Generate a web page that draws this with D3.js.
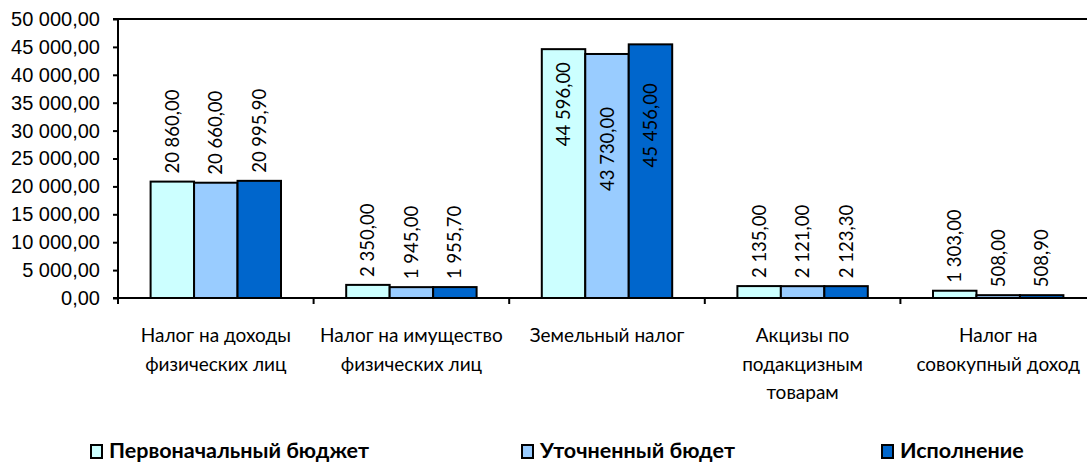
<!DOCTYPE html>
<html>
<head>
<meta charset="utf-8">
<script src="https://cdn.jsdelivr.net/npm/d3@7"></script>
<style>
  body { margin: 0; background: #fff; }
  svg { display: block; font-family: Lato, "Open Sans", sans-serif; }
</style>
</head>
<body>
<div id="chart"></div>
<script>
// chart data
var categories = ["Налог на доходы\nфизических лиц", "Налог на имущество\nфизических лиц",
    "Земельный налог", "Акцизы по\nподакцизным\nтоварам", "Налог на\nсовокупный доход"];
var seriesNames = ["Первоначальный бюджет", "Уточненный бюдет", "Исполнение"];
var initial = [20860, 2350, 44596, 2135, 1303];
var revised = [20660, 1945, 43730, 2121, 508];
var actual = [20995.9, 1955.7, 45456, 2123.3, 508.9];
var yTicks = [0, 5000, 10000, 15000, 20000, 25000, 30000, 35000, 40000, 45000, 50000];

var colors = ["#CCFFFF", "#99CCFF", "#0066CC"];
// labels that do not fit above the plot are drawn inside the bar
var insideShift = [13, 53, 39];

var width = 1087, height = 463;
var margin = { top: 19, left: 118, bottom: 165 };
var plotRight = 1096;
var y0 = height - margin.bottom;

var values = [initial, revised, actual];

var x = d3.scaleBand()
    .domain(categories)
    .range([margin.left, plotRight]);

var xs = d3.scaleBand()
    .domain(d3.range(seriesNames.length))
    .range([0, x.bandwidth()])
    .paddingOuter(0.75);

var y = d3.scaleLinear()
    .domain([0, 50000])
    .range([y0, margin.top]);

var ru = d3.formatLocale({ decimal: ",", thousands: " ", grouping: [3], currency: ["", ""] });
var fmt = ru.format(",.2f");

var svg = d3.select("#chart").append("svg")
    .attr("width", width)
    .attr("height", height);

// bars
var groups = svg.selectAll(".cat")
    .data(categories)
    .enter().append("g")
    .attr("class", "cat")
    .attr("transform", function(d) { return "translate(" + x(d) + ",0)"; });

groups.selectAll("rect")
    .data(function(d, i) {
        return values.map(function(s, j) { return { s: j, v: s[i] }; });
    })
    .enter().append("rect")
    .attr("x", function(d) { return xs(d.s); })
    .attr("y", function(d) { return y(d.v); })
    .attr("width", xs.bandwidth())
    .attr("height", function(d) { return y0 - y(d.v); })
    .attr("fill", function(d) { return colors[d.s]; })
    .attr("stroke", "#000")
    .attr("stroke-width", 2);

// data labels
groups.selectAll("text.lbl")
    .data(function(d, i) {
        return values.map(function(s, j) { return { s: j, v: s[i] }; });
    })
    .enter().append("text")
    .attr("class", "lbl")
    .attr("transform", function(d) {
        var inside = d.v > 40000;
        var ty = inside ? y(d.v) + insideShift[d.s] : y(d.v) - 8;
        return "translate(" + (xs(d.s) + xs.bandwidth() / 2 + 6.5) + "," + ty + ") rotate(-90)";
    })
    .attr("text-anchor", function(d) { return d.v > 40000 ? "end" : "start"; })
    .style("font-size", "18.5px")
    .attr("fill", "#000")
    .text(function(d) { return fmt(d.v); });

// y axis
var yAxis = d3.axisLeft(y)
    .tickValues(yTicks)
    .tickSize(5)
    .tickPadding(13)
    .tickFormat(fmt);

var gy = svg.append("g")
    .attr("transform", "translate(" + margin.left + ",0)")
    .call(yAxis);
gy.select(".domain").remove();
gy.selectAll(".tick line").attr("stroke", "#000").attr("stroke-width", 2);
gy.selectAll(".tick text")
    .style("font-size", "20px")
    .attr("fill", "#000");

// frame: left axis, top border, baseline
svg.append("line")
    .attr("x1", margin.left).attr("x2", margin.left)
    .attr("y1", margin.top).attr("y2", y0 + 1)
    .attr("stroke", "#000").attr("stroke-width", 2);
svg.append("line")
    .attr("x1", margin.left - 5).attr("x2", plotRight)
    .attr("y1", margin.top).attr("y2", margin.top)
    .attr("stroke", "#000").attr("stroke-width", 2);
svg.append("line")
    .attr("x1", margin.left - 5).attr("x2", plotRight)
    .attr("y1", y0).attr("y2", y0)
    .attr("stroke", "#000").attr("stroke-width", 2);

// category boundary ticks
svg.selectAll(".xtick")
    .data(categories)
    .enter().append("line")
    .attr("class", "xtick")
    .attr("x1", function(d) { return x(d); })
    .attr("x2", function(d) { return x(d); })
    .attr("y1", y0)
    .attr("y2", y0 + 6)
    .attr("stroke", "#000").attr("stroke-width", 2);

// category labels
var catLabels = svg.selectAll(".catlbl")
    .data(categories)
    .enter().append("text")
    .attr("class", "catlbl")
    .attr("text-anchor", "middle")
    .style("font-size", "19px")
    .attr("fill", "#000");

catLabels.selectAll("tspan")
    .data(function(d) {
        return d.split("\n").map(function(t) { return { t: t, c: d }; });
    })
    .enter().append("tspan")
    .attr("x", function(d) { return x(d.c) + x.bandwidth() / 2; })
    .attr("y", function(d, i) { return 342 + i * 28.5; })
    .text(function(d) { return d.t; });

// legend
var legendX = [90, 521, 881];
var legend = svg.selectAll(".leg")
    .data(seriesNames)
    .enter().append("g")
    .attr("class", "leg")
    .attr("transform", function(d, i) { return "translate(" + legendX[i] + ",445)"; });

legend.append("rect")
    .attr("x", 1).attr("y", 0)
    .attr("width", 11).attr("height", 13)
    .attr("fill", function(d, i) { return colors[i]; })
    .attr("stroke", "#000")
    .attr("stroke-width", 2);

legend.append("text")
    .attr("x", 19)
    .attr("y", 12.5)
    .style("font-size", "21.5px")
    .style("font-weight", "bold")
    .attr("fill", "#000")
    .text(function(d) { return d; });
</script>
</body>
</html>
